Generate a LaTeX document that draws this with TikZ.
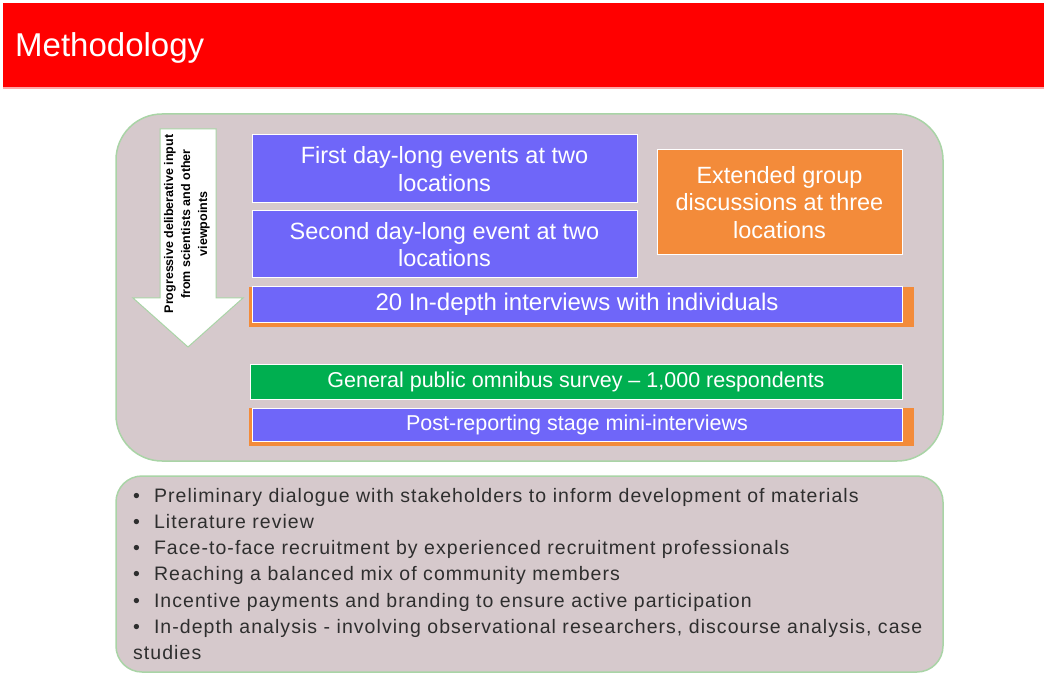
\documentclass[tikz,border=0pt]{standalone}
\usepackage{fontspec}
\setmainfont{Liberation Sans}
\newfontfamily\spacedsans[LetterSpace=5.4]{Liberation Sans}
\definecolor{hdrred}{HTML}{FF0000}
\definecolor{panel}{HTML}{D6C9CC}
\definecolor{panelline}{HTML}{A9D4A6}
\definecolor{evblue}{HTML}{6F66F9}
\definecolor{evorange}{HTML}{F38B3A}
\definecolor{evgreen}{HTML}{00AF50}
\definecolor{bodytext}{HTML}{2E2E2E}
\tikzset{
  panelbox/.style={fill=panel, draw=panelline, line width=1.5pt},
  evbox/.style={draw=white, line width=1pt, inner sep=0pt, text=white, align=center},
  bluebox/.style={evbox, fill=evblue},
  orangebox/.style={evbox, fill=evorange},
  greenbox/.style={evbox, fill=evgreen},
  bigtxt/.style={font=\fontsize{23.5}{27.5}\selectfont},
  midtxt/.style={font=\fontsize{24}{28}\selectfont},
  smalltxt/.style={font=\fontsize{21.5}{25}\selectfont},
}
\newcommand{\bul}{\textbullet\hspace{14pt}}
\begin{document}
\begin{tikzpicture}[x=1pt,y=-1pt]
\useasboundingbox (0,0) rectangle (1044,676);
\fill[white] (0,0) rectangle (1044,676);

% header band
\fill[hdrred] (3,3) rectangle (1044,87);
\fill[hdrred!35] (3,87) rectangle (1044,89);
\node[anchor=base west, text=white, inner sep=0pt,
      font=\fontsize{33}{40}\selectfont] (title) at (15,57) {Methodology};

% rounded panels
\draw[panelbox, rounded corners=46pt] (116,114) rectangle (943,461);
\draw[panelbox, rounded corners=26pt] (116,476) rectangle (943,672);

% downward block arrow
\draw[fill=white, draw=panelline, line width=1pt]
  (160,129) -- (216,129) -- (216,298) -- (243,298) -- (188,347)
  -- (133,298) -- (160,298) -- cycle;
\node[rotate=90, align=center, inner sep=0pt, text=black,
      font=\fontsize{12.5}{17}\selectfont\bfseries] (arrowtxt) at (187,224)
  {Progressive deliberative input\\from scientists and other\\viewpoints};

% event boxes
\node[bluebox, bigtxt, minimum width=385pt, minimum height=68pt] (first) at (444.5,169)
  {First day-long events at two\\locations};
\node[bluebox, bigtxt, minimum width=385pt, minimum height=67pt] (second) at (444.5,244.5)
  {Second day-long event at two\\locations};
\node[orangebox, bigtxt, minimum width=245pt, minimum height=105pt] (groups) at (779.5,202.5)
  {Extended group\\discussions at three\\locations};

\fill[evorange] (249,287) rectangle (914,327);
\node[bluebox, midtxt, minimum width=650pt, minimum height=36pt] (interviews) at (577,304.5)
  {20 In-depth interviews with individuals};

\node[greenbox, smalltxt, minimum width=652pt, minimum height=35pt] (survey) at (576,381.5)
  {General public omnibus survey -- 1,000 respondents};

\fill[evorange] (249,408) rectangle (914,446);
\node[bluebox, smalltxt, minimum width=650pt, minimum height=33pt] (mini) at (577,424.5)
  {Post-reporting stage mini-interviews};

% bullet list
\node[anchor=north west, align=left, inner sep=0pt, text=bodytext,
      font=\spacedsans\fontsize{19.5}{26.2}\selectfont] (list) at (133,488)
  {\bul Preliminary dialogue with stakeholders to inform development of materials\\
   \bul Literature review\\
   \bul Face-to-face recruitment by experienced recruitment professionals\\
   \bul Reaching a balanced mix of community members\\
   \bul Incentive payments and branding to ensure active participation\\
   \bul In-depth analysis - involving observational researchers, discourse analysis, case\\
   studies};
\end{tikzpicture}
\end{document}
